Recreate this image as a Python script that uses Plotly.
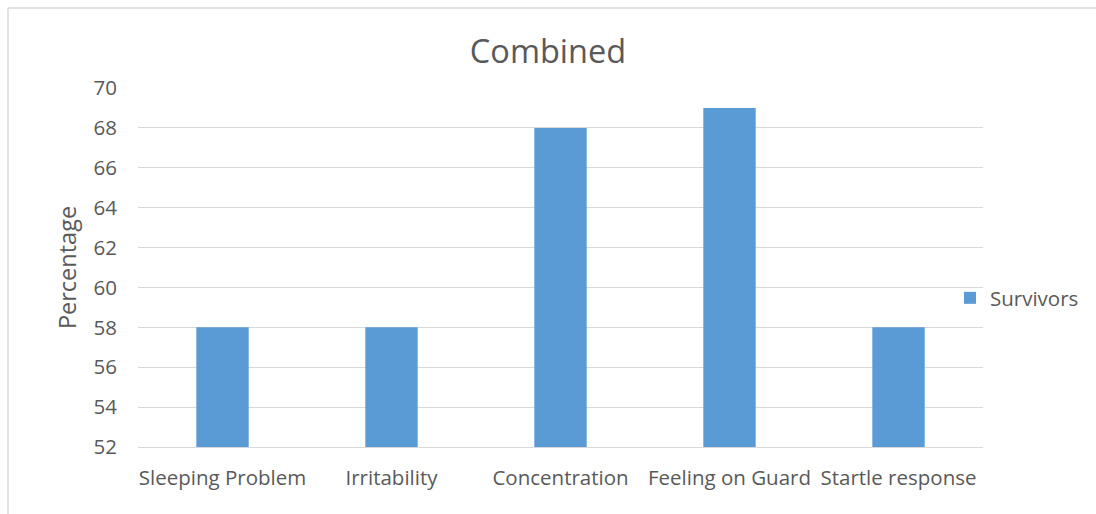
import plotly.graph_objects as go

categories = ["Sleeping Problem", "Irritability", "Concentration", "Feeling on Guard", "Startle response"]
survivors = [58, 58, 68, 69, 58]
y_ticks = [52, 54, 56, 58, 60, 62, 64, 66, 68, 70]

W, H = 1096, 514
ML, MR, MT, MB = 138, 113, 88, 67
pw, ph = W - ML - MR, H - MT - MB

font_family = "'Open Sans', sans-serif"
text_color = "#595959"

fig = go.Figure()
fig.add_trace(go.Bar(
    x=categories,
    y=survivors,
    name="Survivors",
    marker=dict(color="#5b9bd5", line=dict(width=0)),
    width=0.31,
))

# outer chart frame (left and top edges)
bx = (8 - ML) / pw
by = 1 + (MT - 8) / ph
fig.add_shape(type="line", xref="paper", yref="paper", x0=bx, x1=bx, y0=by, y1=-0.3,
              line=dict(color="#d9d9d9", width=1.5))
fig.add_shape(type="line", xref="paper", yref="paper", x0=bx, x1=1.2, y0=by, y1=by,
              line=dict(color="#d9d9d9", width=1.5))

fig.update_layout(
    width=W, height=H,
    margin=dict(l=ML, r=MR, t=MT, b=MB, autoexpand=False),
    paper_bgcolor="white",
    plot_bgcolor="white",
    font=dict(family=font_family, color=text_color, size=21),
    title=dict(text="Combined", x=0.5, xanchor="center", y=1 - 52 / H, yanchor="middle",
               font=dict(size=32.5, color=text_color, family=font_family)),
    showlegend=True,
    legend=dict(x=1 + (950 - 983) / pw, y=0.5 - (298 - (MT + ph / 2)) / ph, xanchor="left", yanchor="middle",
                font=dict(size=20.5, color=text_color), itemwidth=30, bgcolor="rgba(0,0,0,0)"),
    bargap=0.69,
    xaxis=dict(
        showgrid=False, showline=True, linecolor="#d9d9d9", linewidth=1,
        ticks="", tickfont=dict(size=20.5, color=text_color), ticklabelstandoff=12,
    ),
    yaxis=dict(
        range=[52, 70], tickvals=y_ticks, showgrid=True, gridcolor="#d9d9d9", gridwidth=1,
        zeroline=False, showline=False, ticks="", tickfont=dict(size=20.5, color=text_color),
        ticklabelstandoff=20,
        title=dict(text="Percentage", font=dict(size=23.5, color=text_color), standoff=10),
    ),
)

fig.write_html("out.html")
